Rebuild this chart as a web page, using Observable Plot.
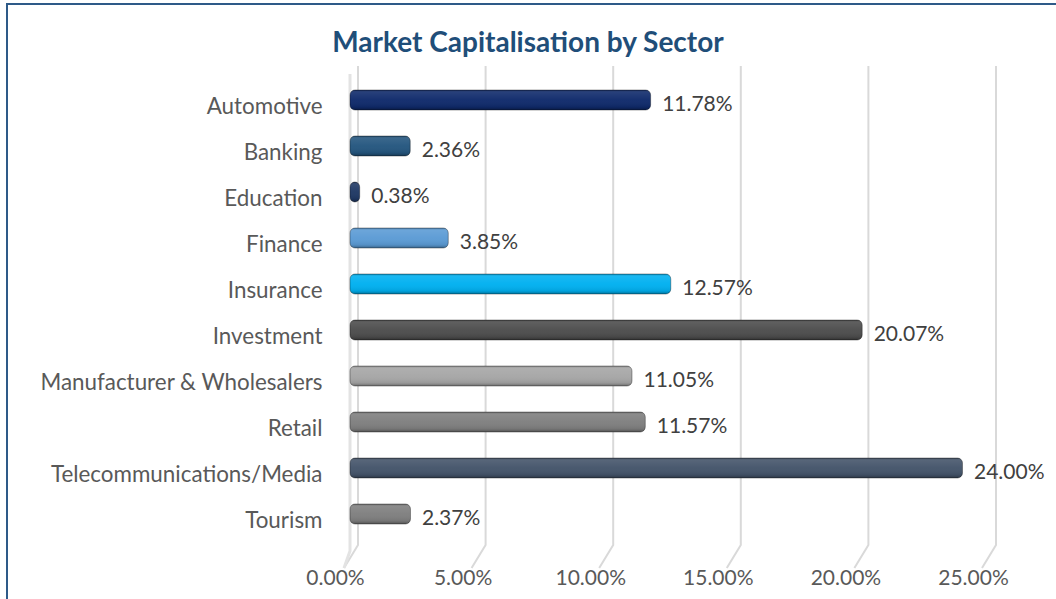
<!DOCTYPE html>
<html><head><meta charset="utf-8">
<script src="https://cdn.jsdelivr.net/npm/d3@7"></script>
<script src="https://cdn.jsdelivr.net/npm/@observablehq/plot@0.6"></script>
<style>
body{margin:0;background:#fff;overflow:hidden;width:1056px;height:599px;position:relative;font-family:Lato,sans-serif}
#frame{position:absolute;left:6px;top:3px;width:1200px;height:700px;border:2px solid #2E5A88;}
#title{position:absolute;left:0;top:24px;width:1056px;text-align:center;font:bold 28px Lato,sans-serif;color:#1F4E79;}
#chart{position:absolute;left:0;top:60px;}
</style></head><body>
<svg width="0" height="0" style="position:absolute">
  <defs>
    <linearGradient id="shine" x1="0" y1="0" x2="0" y2="1">
      <stop offset="0" stop-color="#000" stop-opacity="0.28"/>
      <stop offset="0.12" stop-color="#fff" stop-opacity="0.10"/>
      <stop offset="0.5" stop-color="#fff" stop-opacity="0.03"/>
      <stop offset="0.85" stop-color="#000" stop-opacity="0.08"/>
      <stop offset="1" stop-color="#000" stop-opacity="0.35"/>
    </linearGradient>
  </defs>
</svg>
<div id="frame"></div>
<div id="title">Market Capitalisation by Sector</div>
<div id="chart"></div>
<script>
const sectors = ["Automotive","Banking","Education","Finance","Insurance","Investment","Manufacturer & Wholesalers","Retail","Telecommunications/Media","Tourism"];
const shares = [11.78, 2.36, 0.38, 3.85, 12.57, 20.07, 11.05, 11.57, 24.00, 2.37];
const barColors = ["#0F2A6B","#24567F","#1F3864","#5B9BD5","#00B0F0","#4D4D4D","#A6A6A6","#7F7F7F","#44546A","#7F7F7F"];
const xTicks = [0, 5, 10, 15, 20, 25];

const data = sectors.map((s, i) => ({sector: s, share: shares[i], color: barColors[i]}));

function gridMark(index, scales, values, dims) {
  const g = d3.create("svg:g");
  const top = 6, bottom = dims.height - dims.marginBottom + 5, foot = bottom + 23;
  for (const t of xTicks) {
    const x = scales.x(t);
    g.append("path").attr("d", `M${x+8},${top}L${x+8},${bottom}L${x-6},${foot}`)
      .attr("fill","none").attr("stroke","#D9D9D9").attr("stroke-width",2);
    if (t === 0) {
      g.append("path").attr("d", `M${x},${top+8}L${x},${bottom+6}L${x-6},${foot}`)
        .attr("fill","none").attr("stroke","#E3E3E3").attr("stroke-width",3);
    }
  }
  return g.node();
}

const chart = Plot.plot({
  width: 1056,
  height: 539,
  marginTop: 13,
  marginBottom: 59,
  marginLeft: 350,
  marginRight: 68,
  x: {domain: [0, 25], axis: null},
  y: {domain: sectors, padding: 0, axis: null},
  style: {fontFamily: "Lato, sans-serif", background: "transparent"},
  marks: [
    gridMark,
    Plot.barX(data, {x: "share", y: "sector", fill: "color", insetTop: 13, insetBottom: 13, rx: 5,
      stroke: "#000", strokeOpacity: 0.35, strokeWidth: 1}),
    Plot.barX(data, {x: "share", y: "sector", fill: "url(#shine)", insetTop: 13, insetBottom: 13, rx: 5}),
    Plot.text(data, {x: "share", y: "sector", text: d => d.share.toFixed(2) + "%", dx: 11, dy: 4,
      textAnchor: "start", fontSize: 21, fill: "#404040"}),
    Plot.text(sectors, {y: d => d, frameAnchor: "left", text: d => d, dx: -28, dy: 6,
      textAnchor: "end", fontSize: 22.4, fill: "#595959"}),
    Plot.text(xTicks, {x: d => d, frameAnchor: "bottom", text: d => d.toFixed(2) + "%", dx: -15, dy: 44,
      fontSize: 21, fill: "#595959"})
  ]
});
document.getElementById("chart").appendChild(chart);
</script>
</body></html>
